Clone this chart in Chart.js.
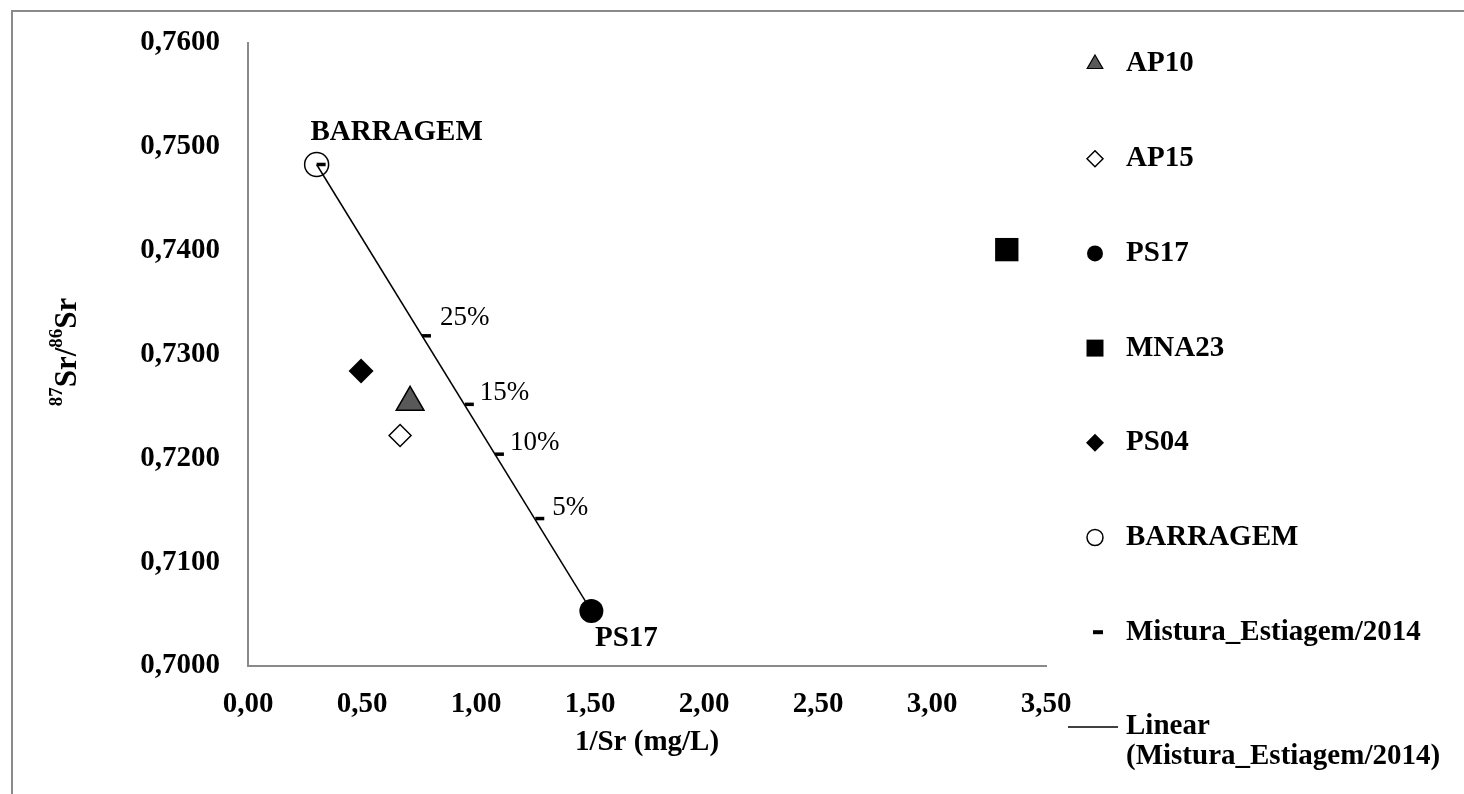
<!DOCTYPE html>
<html>
<head>
<meta charset="utf-8">
<script src="https://cdn.jsdelivr.net/npm/chart.js@4.4.1/dist/chart.umd.min.js"></script>
<style>
    html, body { margin: 0; padding: 0; background: #fff; }
</style>
</head>
<body>
<canvas id="srChart" width="1464" height="794"></canvas>
<script>
// Samples: 1/Sr (mg/L) and 87Sr/86Sr
const ap10X = [0.711];      const ap10Y = [0.7254];
const ap15X = [0.667];      const ap15Y = [0.7222];
const ps17X = [1.506];      const ps17Y = [0.7053];
const mna23X = [3.328];     const mna23Y = [0.7401];
const ps04X = [0.496];      const ps04Y = [0.7284];
const barragemX = [0.301];  const barragemY = [0.7483];

// Mixing points (Mistura_Estiagem/2014) and their labels
const misturaX = [0.301, 0.763, 0.951, 1.083, 1.260, 1.506];
const misturaY = [0.7483, 0.7318, 0.7252, 0.7204, 0.7142, 0.7053];
const misturaLabels = ['', '25%', '15%', '10%', '5%', ''];

// Linear trend line end points
const trendX = [0.301, 1.506];
const trendY = [0.7483, 0.7053];

// Axis ticks
const xTickMin = 0, xTickMax = 3.5, xTickStep = 0.5;
const yTickMin = 0.70, yTickMax = 0.76, yTickStep = 0.01;

const serif = "'Liberation Serif', 'Times New Roman', serif";
const axisGray = '#8a8a8a';

function toPoints(xs, ys) {
    return xs.map((x, i) => ({ x: x, y: ys[i] }));
}

// Legend entries (drawn by the plugin below)
const legendItems = [
    { text: ['AP10'], style: 'triangle', radius: 9, fill: '#595959', stroke: '#000', bw: 1.2 },
    { text: ['AP15'], style: 'rectRot', radius: 8, fill: '#fff', stroke: '#000', bw: 1.5 },
    { text: ['PS17'], style: 'circle', radius: 8, fill: '#000', stroke: '#000', bw: 0 },
    { text: ['MNA23'], style: 'rect', radius: 12, fill: '#000', stroke: '#000', bw: 0 },
    { text: ['PS04'], style: 'rectRot', radius: 9, fill: '#000', stroke: '#000', bw: 0 },
    { text: ['BARRAGEM'], style: 'circle', radius: 8, fill: 'rgba(0,0,0,0)', stroke: '#000', bw: 1.5 },
    { text: ['Mistura_Estiagem/2014'], style: 'dashMark' },
    { text: ['Linear', '(Mistura_Estiagem/2014)'], style: 'lineMark' }
];

const decorPlugin = {
    id: 'decor',
    beforeDraw(chart) {
        const ctx = chart.ctx;
        ctx.save();
        ctx.strokeStyle = axisGray;
        ctx.lineWidth = 2;
        ctx.strokeRect(12, 11, 1470, 800);
        ctx.restore();
    },
    afterDraw(chart) {
        const ctx = chart.ctx;
        const area = chart.chartArea;
        ctx.save();
        ctx.fillStyle = '#000';

        // y axis title with superscripts
        ctx.save();
        ctx.translate(67, 352);
        ctx.rotate(-Math.PI / 2);
        const parts = [
            { t: '87', sup: true }, { t: 'Sr/', sup: false },
            { t: '86', sup: true }, { t: 'Sr', sup: false }
        ];
        let total = 0;
        parts.forEach(p => {
            ctx.font = 'bold ' + (p.sup ? 19 : 31) + 'px ' + serif;
            p.w = ctx.measureText(p.t).width;
            total += p.w;
        });
        let px = -total / 2;
        ctx.textBaseline = 'alphabetic';
        ctx.textAlign = 'left';
        parts.forEach(p => {
            ctx.font = 'bold ' + (p.sup ? 19 : 31) + 'px ' + serif;
            ctx.fillText(p.t, px, p.sup ? -5 : 9);
            px += p.w;
        });
        ctx.restore();

        // x axis title
        ctx.font = 'bold 29px ' + serif;
        ctx.textAlign = 'center';
        ctx.textBaseline = 'middle';
        ctx.fillText('1/Sr (mg/L)', (area.left + area.right) / 2, 743);

        // sample labels
        const bar = chart.getDatasetMeta(5).data[0];
        ctx.fillText('BARRAGEM', bar.x + 80, bar.y - 32);
        const ps = chart.getDatasetMeta(2).data[0];
        ctx.fillText('PS17', ps.x + 35, ps.y + 28);

        // mixing percentages
        ctx.font = '27px ' + serif;
        ctx.textAlign = 'left';
        const mixOffsets = [null, [18, -18], [15, -11], [15, -11], [17, -11], null];
        const mix = chart.getDatasetMeta(6).data;
        misturaLabels.forEach((lbl, i) => {
            if (!lbl) return;
            ctx.fillText(lbl, mix[i].x + mixOffsets[i][0], mix[i].y + mixOffsets[i][1]);
        });

        // legend
        const markX = 1095, textX = 1126, rowY0 = 64, rowStep = 94.7;
        legendItems.forEach((item, i) => {
            const y = rowY0 + i * rowStep;
            if (item.style === 'dashMark') {
                ctx.fillRect(1093, y - 2, 10, 4);
            } else if (item.style === 'lineMark') {
                ctx.save();
                ctx.strokeStyle = '#000';
                ctx.lineWidth = 1.5;
                ctx.beginPath();
                ctx.moveTo(1068, y);
                ctx.lineTo(1118, y);
                ctx.stroke();
                ctx.restore();
            } else {
                ctx.save();
                ctx.fillStyle = item.fill;
                ctx.strokeStyle = item.stroke;
                ctx.lineWidth = item.bw;
                Chart.helpers.drawPoint(ctx, {
                    pointStyle: item.style, radius: item.radius, rotation: 0, borderWidth: item.bw
                }, markX, y);
                ctx.restore();
            }
            ctx.font = 'bold 29px ' + serif;
            ctx.textAlign = 'left';
            ctx.textBaseline = 'middle';
            item.text.forEach((line, k) => {
                ctx.fillText(line, textX, y + k * 30);
            });
        });
        ctx.restore();
    }
};

const ctx = document.getElementById('srChart').getContext('2d');
const srChart = new Chart(ctx, {
    type: 'scatter',
    data: {
        datasets: [
            {
                label: 'AP10',
                data: toPoints(ap10X, ap10Y),
                pointStyle: 'triangle',
                pointRadius: 16,
                backgroundColor: '#595959',
                borderColor: '#000',
                borderWidth: 1.5
            },
            {
                label: 'AP15',
                data: toPoints(ap15X, ap15Y),
                pointStyle: 'rectRot',
                pointRadius: 11,
                backgroundColor: '#fff',
                borderColor: '#000',
                borderWidth: 1.5
            },
            {
                label: 'PS17',
                data: toPoints(ps17X, ps17Y),
                pointStyle: 'circle',
                pointRadius: 12,
                backgroundColor: '#000',
                borderColor: '#000',
                borderWidth: 0
            },
            {
                label: 'MNA23',
                data: toPoints(mna23X, mna23Y),
                pointStyle: 'rect',
                pointRadius: 16.5,
                backgroundColor: '#000',
                borderColor: '#000',
                borderWidth: 0
            },
            {
                label: 'PS04',
                data: toPoints(ps04X, ps04Y),
                pointStyle: 'rectRot',
                pointRadius: 12.5,
                backgroundColor: '#000',
                borderColor: '#000',
                borderWidth: 0
            },
            {
                label: 'BARRAGEM',
                data: toPoints(barragemX, barragemY),
                pointStyle: 'circle',
                pointRadius: 12,
                backgroundColor: 'rgba(0,0,0,0)',
                borderColor: '#000',
                borderWidth: 1.5
            },
            {
                label: 'Mistura_Estiagem/2014',
                data: toPoints(misturaX, misturaY),
                pointStyle: 'dash',
                pointRadius: 9,
                borderColor: '#000',
                borderWidth: 3.5
            },
            {
                label: 'Linear (Mistura_Estiagem/2014)',
                data: toPoints(trendX, trendY),
                showLine: true,
                pointRadius: 0,
                borderColor: '#000',
                borderWidth: 1.5,
                fill: false
            }
        ]
    },
    options: {
        responsive: false,
        animation: false,
        layout: {
            padding: { left: 0, right: 418, top: 43, bottom: 0 }
        },
        scales: {
            x: {
                type: 'linear',
                min: xTickMin,
                max: xTickMax,
                grid: { display: false },
                border: { display: true, color: axisGray, width: 2 },
                ticks: {
                    stepSize: xTickStep,
                    padding: 13,
                    color: '#000',
                    font: { family: serif, size: 29, weight: 'bold' },
                    callback: v => v.toFixed(2).replace('.', ',')
                },
                afterFit: s => { s.height = 128; }
            },
            y: {
                type: 'linear',
                min: yTickMin,
                max: yTickMax,
                grid: { display: false },
                border: { display: true, color: axisGray, width: 2 },
                ticks: {
                    stepSize: yTickStep,
                    padding: 20,
                    color: '#000',
                    font: { family: serif, size: 29, weight: 'bold' },
                    callback: v => v.toFixed(4).replace('.', ',')
                },
                afterFit: s => { s.width = 248; }
            }
        },
        plugins: {
            legend: { display: false },
            tooltip: { enabled: false }
        }
    },
    plugins: [decorPlugin]
});
</script>
</body>
</html>
